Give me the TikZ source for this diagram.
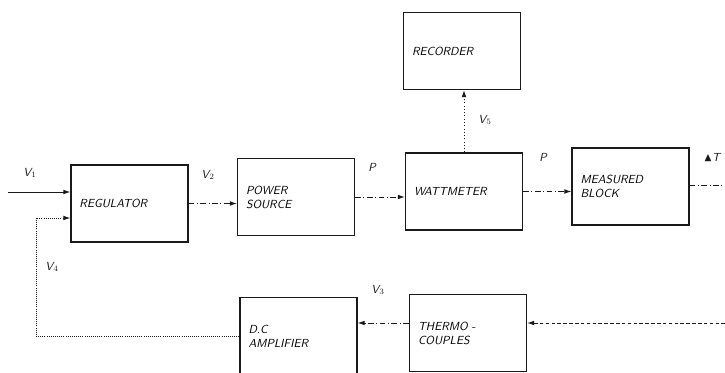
\documentclass[tikz,border=0pt]{standalone}
\usepackage{amsmath, amssymb}
\usepackage{tikz}
\usetikzlibrary{
  arrows.meta,
  positioning,
  calc,
}
\definecolor{inkblack}{HTML}{1A1A1A}

\tikzset{
  block/.style={draw=inkblack, line width=1.3pt, minimum width=3.5cm, minimum height=2.3cm,
    text width=3.0cm, align=left, font=\sffamily\itshape\normalsize},
  sig/.style={inkblack, line width=0.8pt, dash pattern=on 5pt off 2pt on 1pt off 2pt,
    -{Latex[length=6pt, width=4pt]}},
  lbl/.style={inkblack, font=\sffamily\itshape\normalsize},
}

\begin{document}
\begin{tikzpicture}[x=0.03cm, y=-0.03cm]
  \useasboundingbox (0,0) rectangle (725,373);
  % blocks
  \node[block] (reg)    at (129.5,203.5) {REGULATOR};
  \node[block] (pwr)    at (296,197)     {POWER\\SOURCE};
  \node[block] (watt)   at (464,191.5)   {WATTMETER};
  \node[block] (meas)   at (630.5,186.5) {MEASURED\\BLOCK};
  \node[block] (rec)    at (462,51)      {RECORDER};
  \node[block] (dca)    at (298.5,336)   {D.C\\AMPLIFIER};
  \node[block] (thermo) at (468,333)     {THERMO -\\COUPLES};
  % free ends
  \coordinate (in1) at (8,192);
  \coordinate (fb)  at (36,218);
  \coordinate (out) at (725,185);
  \coordinate (fbr) at (725,323);
  % forward path
  \draw[sig, solid] (in1) -- (in1 -| reg.west);
  \draw[sig] (reg.east) -- (reg.east -| pwr.west);
  \draw[sig] (pwr.east) -- (pwr.east -| watt.west);
  \draw[sig] (watt.east) -- (watt.east -| meas.west);
  \draw[sig, -] (meas.east |- out) -- (out);
  \draw[sig, dotted] (watt.north) -- (watt.north |- rec.south);
  % feedback path
  \draw[sig, densely dashed] (fbr) -- (fbr -| thermo.east);
  \draw[sig] (fbr -| thermo.west) -- (fbr -| dca.east);
  \draw[sig, densely dotted] (dca.west) -| (fb) -- (fb -| reg.west);
  % labels
  \node[lbl] (lv1) at (30,173)  {V$_1$};
  \node[lbl] (lv2) at (208,175) {V$_2$};
  \node[lbl] (lp1) at (372,167) {P};
  \node[lbl] (lp2) at (543,157) {P};
  \node[lbl] (ldt) at (712,157) {$\blacktriangle$T};
  \node[lbl] (lv5) at (485,120) {V$_5$};
  \node[lbl] (lv4) at (52,267)  {V$_4$};
  \node[lbl] (lv3) at (378,290) {V$_3$};
\end{tikzpicture}
\end{document}
